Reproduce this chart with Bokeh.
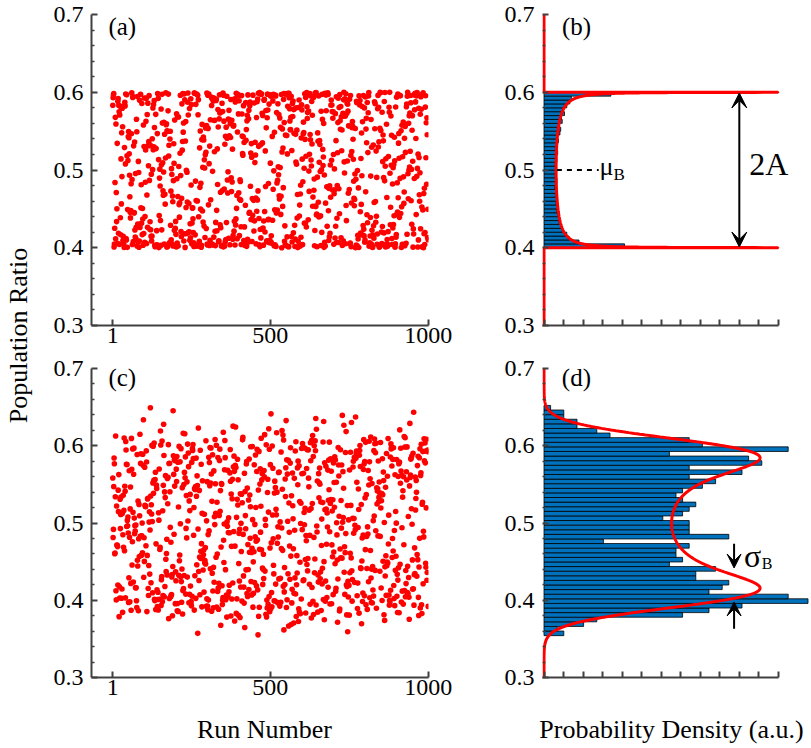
import numpy as np
from bokeh.plotting import figure
from bokeh.models import Range1d, FixedTicker, PrintfTickFormatter, Label, Arrow, VeeHead
from bokeh.layouts import row, column
from bokeh.embed import file_html
from bokeh.resources import INLINE

# ---------------- data ----------------
RUN_COUNT = 1000
RUN_TICKS = [1, 500, 1000]
RATIO_TICKS = [0.3, 0.4, 0.5, 0.6, 0.7]

# panel (b): histogram of the ratios of panel (a), 40 bins from 0.400 (bottom -> top)
HIST_B_START = 0.400
HIST_B_WIDTH = 0.005
HIST_B_COUNTS = [106, 46, 33, 30, 24, 23, 20, 20, 18, 17, 18, 16, 18, 15, 17, 14, 16, 17, 15, 16,
                 16, 15, 17, 16, 18, 15, 17, 19, 18, 21, 22, 20, 24, 23, 27, 25, 30, 34, 36, 88]

# panel (d): histogram of the ratios of panel (c), 50 bins from 0.3542 (bottom -> top)
HIST_D_START = 0.3542
HIST_D_WIDTH = 0.00596
HIST_D_COUNTS = [3, 2, 6, 8, 21, 25, 30, 40, 37, 25, 27, 28, 23, 23, 26, 19, 21, 20, 20, 22,
                 9, 28, 22, 22, 22, 18, 21, 22, 23, 21, 20, 21, 24, 26, 22, 30, 22, 33, 31, 19,
                 37, 24, 22, 10, 8, 5, 5, 3, 3, 1]

# fitted model parameters (annotated as mu_B, 2A, sigma_B)
MU_B = 0.5
AMP_A = 0.1
SIGMA_B = 0.019

# ---------------- derived series ----------------
def bin_values(start, width, counts):
    vals = []
    for k, c in enumerate(counts):
        lo = start + k * width
        vals.extend(lo + (j + 0.5) * width / c for j in range(c))
    return np.array(vals)


def run_rank(n, a, b, p=1013):
    i = np.arange(n, dtype=np.int64)
    u = (a * i + b) % p
    key = (u * u % p) * u % p
    key = (key * 541 + 7) % p
    return np.argsort(np.argsort(key))


runs = np.arange(1, RUN_COUNT + 1)
ratio_a = bin_values(HIST_B_START, HIST_B_WIDTH, HIST_B_COUNTS)[run_rank(RUN_COUNT, 389, 17)]
ratio_c = bin_values(HIST_D_START, HIST_D_WIDTH, HIST_D_COUNTS)[run_rank(RUN_COUNT, 613, 101)]

FONT = "Liberation Serif"
AXC = "#404040"
RED = "#ff0000"
BLUE = "#0072BD"

B_PX = 0.76      # px per count, panel (b)
D_PX = 6.6       # px per count, panel (d)
HIST_FRAME_W = 268
AXIS_PX = 234
B_START = -1.5 / B_PX
D_START = -1.5 / D_PX
B_AX_MAX = AXIS_PX / B_PX
D_AX_MAX = AXIS_PX / D_PX

# (b) arcsine fit
theta = np.linspace(-np.pi / 2, np.pi / 2, 1201)
tin = theta[1:-1]
yb = MU_B + AMP_A * np.sin(tin)
xb = np.minimum(RUN_COUNT * HIST_B_WIDTH / (np.pi * AMP_A * np.cos(tin)), B_AX_MAX)
curve_b_x = [0, 0, B_AX_MAX] + list(xb) + [B_AX_MAX, 0, 0]
curve_b_y = [0.3, 0.4, 0.4] + list(yb) + [0.6, 0.6, 0.7]

# (d) arcsine convolved with gaussian
yd = np.linspace(0.3, 0.7, 801)
cent = MU_B + AMP_A * np.sin(theta)
dens = np.exp(-0.5 * ((yd[:, None] - cent[None, :]) / SIGMA_B) ** 2).mean(axis=1) / (SIGMA_B * np.sqrt(2 * np.pi))
xd = RUN_COUNT * HIST_D_WIDTH * dens


def blank_fig(width, height, **kw):
    p = figure(width=width, height=height, output_backend="svg", toolbar_location=None, title=None, **kw)
    p.outline_line_color = None
    p.grid.visible = False
    p.background_fill_color = "white"
    p.border_fill_color = "white"
    return p


def make_fig(width, height, xr, mbl, mbr, mbt, mbb):
    p = blank_fig(width, height, x_range=xr, y_range=Range1d(0.3, 0.7),
                  min_border_left=mbl, min_border_right=mbr, min_border_top=mbt, min_border_bottom=mbb)
    for ax in (p.xaxis[0], p.yaxis[0]):
        ax.axis_line_color = AXC
        ax.axis_line_width = 2
        ax.major_tick_line_color = AXC
        ax.major_tick_line_width = 2
        ax.minor_tick_line_color = AXC
        ax.minor_tick_line_width = 1.5
        ax.major_tick_in = 6
        ax.major_tick_out = 0
        ax.minor_tick_in = 3
        ax.minor_tick_out = 0
        ax.major_label_text_font = FONT
        ax.major_label_text_font_size = "24px"
        ax.major_label_text_color = "black"
    minors = [round(0.3 + 0.02 * k, 2) for k in range(21)]
    minors = [m for m in minors if m not in RATIO_TICKS]
    p.yaxis[0].ticker = FixedTicker(ticks=RATIO_TICKS, minor_ticks=minors)
    p.yaxis[0].formatter = PrintfTickFormatter(format="%.1f")
    p.yaxis[0].major_label_standoff = 8
    p.xaxis[0].major_label_standoff = 2
    return p


def note(p, x, baseline, text, fs, scale, align="left"):
    # baseline given in data units; text drawn centred on its box, so lift by ~0.34 em
    p.add_layout(Label(x=x, y=baseline + 0.34 * fs / scale, text=text, text_font=FONT,
                       text_font_size=f"{fs}px", text_color="black",
                       text_baseline="middle", text_align=align))


TOP_H, BOT_H, TITLE_H = 354, 352, 40
TOP_MBT, TOP_MBB = 14, 29
BOT_MBT, BOT_MBB = 14, 29
A_W, B_W = 416, 358
A_MBL, A_MBR = 55, 24
LAB_W = 36
TOP_SCALE = (TOP_H - TOP_MBT - TOP_MBB) / 0.4
BOT_SCALE = (BOT_H - BOT_MBT - BOT_MBB) / 0.4
TOP_LABEL_Y, BOT_LABEL_Y = 0.674, 0.677


def scatter_panel(ratios, height, mbt, mbb, label, label_y, scale):
    p = make_fig(A_W, height, Range1d(-66.5, 1001), A_MBL, A_MBR, mbt, mbb)
    p.xaxis[0].ticker = FixedTicker(ticks=RUN_TICKS, minor_ticks=[])
    p.scatter(runs, ratios, size=5.6, fill_color=RED, line_color=None)
    note(p, -13, label_y, label, 25, scale)
    return p


def hist_panel(height, mbt, mbb, px, start, axmax):
    p = make_fig(B_W, height, Range1d(start, start + HIST_FRAME_W / px), B_W - HIST_FRAME_W, 0, mbt, mbb)
    p.xaxis[0].ticker = FixedTicker(ticks=[axmax * i / 12 for i in range(13)], minor_ticks=[])
    p.xaxis[0].bounds = (start, axmax)
    p.xaxis[0].major_label_text_color = None
    p.yaxis[0].axis_line_color = None
    return p


pa = scatter_panel(ratio_a, TOP_H, TOP_MBT, TOP_MBB, "(a)", TOP_LABEL_Y, TOP_SCALE)
pc = scatter_panel(ratio_c, BOT_H, BOT_MBT, BOT_MBB, "(c)", BOT_LABEL_Y, BOT_SCALE)

# panel (b)
pb = hist_panel(TOP_H, TOP_MBT, TOP_MBB, B_PX, B_START, B_AX_MAX)
cb = [HIST_B_START + (k + 0.5) * HIST_B_WIDTH for k in range(len(HIST_B_COUNTS))]
pb.hbar(y=cb, height=HIST_B_WIDTH, left=0, right=HIST_B_COUNTS, fill_color=BLUE,
        line_color="black", line_width=0.8)
pb.line(curve_b_x, curve_b_y, line_color=RED, line_width=3)
pb.line([17, 72], [MU_B, MU_B], line_color="black", line_width=2, line_dash="5 5")
note(pb, 73, 0.4935, "μ", 26, TOP_SCALE)
note(pb, 91.5, 0.4871, "B", 17, TOP_SCALE)
pb.add_layout(Arrow(x_start=257, y_start=MU_B - AMP_A + 0.001, x_end=257, y_end=MU_B + AMP_A - 0.001,
                    line_width=2, line_color="black",
                    start=VeeHead(size=15, fill_color="black", line_color="black"),
                    end=VeeHead(size=15, fill_color="black", line_color="black")))
note(pb, 270, 0.4932, "2A", 32, TOP_SCALE)
note(pb, 23.7, TOP_LABEL_Y, "(b)", 25, TOP_SCALE)

# panel (d)
pd_ = hist_panel(BOT_H, BOT_MBT, BOT_MBB, D_PX, D_START, D_AX_MAX)
cd = [HIST_D_START + (k + 0.5) * HIST_D_WIDTH for k in range(len(HIST_D_COUNTS))]
pd_.hbar(y=cd, height=HIST_D_WIDTH, left=0, right=HIST_D_COUNTS, fill_color=BLUE,
         line_color="black", line_width=0.8)
pd_.line(xd, yd, line_color=RED, line_width=3)
pd_.add_layout(Arrow(x_start=28.8, y_start=0.4733, x_end=28.8, y_end=0.4418, line_width=2,
                     line_color="black", start=None,
                     end=VeeHead(size=14, fill_color="black", line_color="black")))
pd_.add_layout(Arrow(x_start=28.8, y_start=0.3632, x_end=28.8, y_end=0.3978, line_width=2,
                     line_color="black", start=None,
                     end=VeeHead(size=14, fill_color="black", line_color="black")))
note(pd_, 30.3, 0.4431, "σ", 32, BOT_SCALE)
note(pd_, 33.0, 0.4405, "B", 16, BOT_SCALE)
note(pd_, 2.7, BOT_LABEL_Y, "(d)", 25, BOT_SCALE)

# x-axis titles, each in its own strip below the bottom panels
def title_strip(width, center_x, text):
    t = blank_fig(width, TITLE_H, x_range=Range1d(0, width), y_range=Range1d(0, TITLE_H),
                  min_border=0, x_axis_location=None, y_axis_location=None)
    note(t, center_x, 8, text, 26, 1.0, "center")
    return t


ta = title_strip(A_W, 228, "Run Number")
tb = title_strip(B_W, 219, "Probability Density (a.u.)")

# shared y-axis title as the label of an empty axis
TOTAL_H = TOP_H + BOT_H + TITLE_H
lab = blank_fig(LAB_W, TOTAL_H, x_range=Range1d(0, 1), y_range=Range1d(0, 1),
                min_border_left=LAB_W - 4, min_border_right=0, min_border_top=0,
                min_border_bottom=TOTAL_H - 670, x_axis_location=None, y_axis_location="left")
yl = lab.yaxis[0]
yl.ticker = FixedTicker(ticks=[], minor_ticks=[])
yl.axis_line_color = None
yl.major_tick_line_color = None
yl.minor_tick_line_color = None
yl.major_label_text_color = None
yl.axis_label = "Population Ratio"
yl.axis_label_text_font = FONT
yl.axis_label_text_font_size = "26px"
yl.axis_label_text_font_style = "normal"
yl.axis_label_text_color = "black"
yl.axis_label_standoff = 3

layout = row(lab, column(row(pa, pb), row(pc, pd_), row(ta, tb)))
open("out.html", "w").write(file_html(layout, INLINE))
